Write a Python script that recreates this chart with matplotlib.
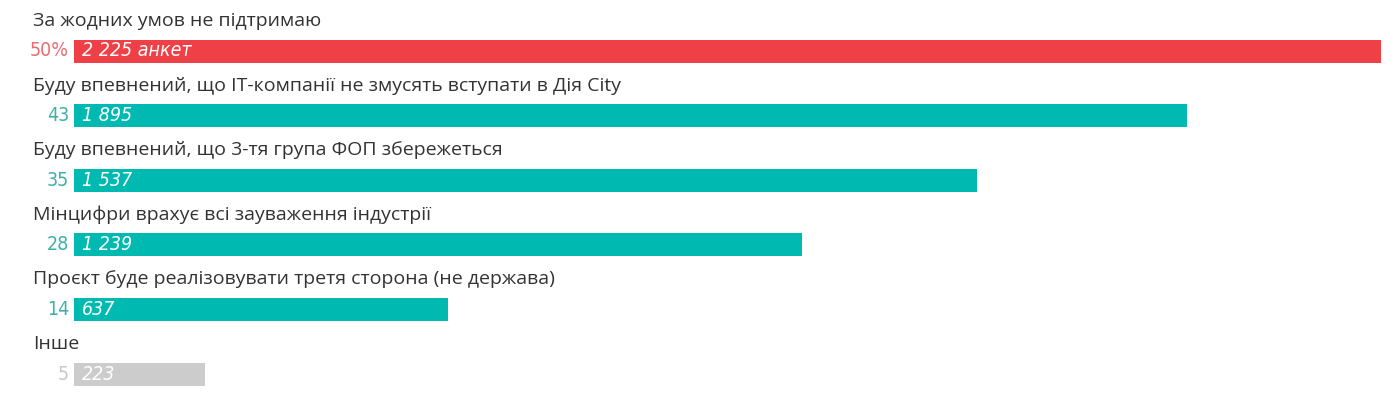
import matplotlib
matplotlib.use('Agg')
import matplotlib.pyplot as plt
from matplotlib import font_manager

names = sorted(set((f.name, f.stretch, f.style) for f in font_manager.fontManager.ttflist))
for n in names:
    print(n)

labels = [
    'За жодних умов не підтримаю',
    'Буду впевнений, що IT-компанії не змусять вступати в Дія City',
    'Буду впевнений, що 3-тя група ФОП збережеться',
    'Мінцифри врахує всі зауваження індустрії',
    'Проєкт буде реалізовувати третя сторона (не держава)',
    'Інше',
]
percents = ['50%', '43', '35', '28', '14', '5']
counts = [2225, 1895, 1537, 1239, 637, 223]
count_labels = ['2 225 анкет', '1 895', '1 537', '1 239', '637', '223']
bar_colors = ['#ef4047', '#00bab1', '#00bab1', '#00bab1', '#00bab1', '#cccccc']
pct_colors = ['#ea6b70', '#3fb0a8', '#3fb0a8', '#3fb0a8', '#3fb0a8', '#c8c8c8']

W, H = 1400, 395
fig = plt.figure(figsize=(W / 100, H / 100), dpi=100)
x0, x1 = 74, 1381
ax = fig.add_axes([x0 / W, 0, (x1 - x0) / W, 1])
step = 64.6
first = 51
ax.set_ylim((H - first) / step, -first / step)
ax.set_xlim(0, counts[0])
ax.axis('off')

ypos = list(range(len(labels)))
ax.barh(ypos, counts, height=23 / step, color=bar_colors)

for i, lab in enumerate(labels):
    ax.annotate(lab, xy=(0, i), xycoords=('axes fraction', 'data'),
                xytext=(-41 * 0.72, 30 * 0.72), textcoords='offset points',
                ha='left', va='center', fontsize=14, color='#333333', family='Open Sans')
    ax.annotate(percents[i], xy=(0, i), xycoords='data',
                xytext=(-5 * 0.72, 0), textcoords='offset points',
                ha='right', va='center', fontsize=14, color=pct_colors[i],
                family='DejaVu Sans', fontstretch='condensed')
    ax.annotate(count_labels[i], xy=(0, i), xycoords='data',
                xytext=(8 * 0.72, 0), textcoords='offset points',
                ha='left', va='center', fontsize=14, color='white', style='italic',
                family='DejaVu Sans', fontstretch='condensed')

fig.savefig('out.png', dpi=100)
